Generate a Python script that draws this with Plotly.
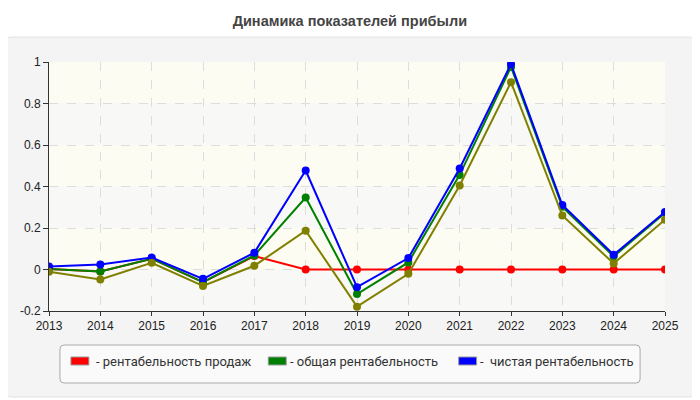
import plotly.graph_objs as go

# Data
years = [2013, 2014, 2015, 2016, 2017, 2018, 2019, 2020, 2021, 2022, 2023, 2024, 2025]
sales_margin = [0.003, -0.01, 0.052, -0.061, 0.065, 0, 0, 0, 0, 0, 0, 0, 0]
total_margin = [0.003, -0.01, 0.052, -0.061, 0.068, 0.347, -0.118, 0.034, 0.456, 0.976, 0.302, 0.063, 0.273]
net_margin = [0.015, 0.024, 0.058, -0.045, 0.081, 0.477, -0.085, 0.055, 0.487, 0.99, 0.311, 0.071, 0.277]
other_margin = [-0.011, -0.048, 0.032, -0.079, 0.018, 0.187, -0.179, -0.021, 0.405, 0.903, 0.26, 0.029, 0.24]

y_ticks = [-0.2, 0, 0.2, 0.4, 0.6, 0.8, 1]
y_labels = ['-0.2', '0', '0.2', '0.4', '0.6', '0.8', '1']

legend_names = ['- рентабельность продаж', '- общая рентабельность', '-  чистая рентабельность']
colors = ['#ff0000', '#008000', '#0000ff', '#808000']

# plot area in page pixels (figure sits 8px into the page)
PX0, PX1, PY0, PY1 = 47, 665, 62, 311


def px(x):
    return (x - PX0) / (PX1 - PX0)


def py(y):
    return (PY1 - y) / (PY1 - PY0)


def rounded(x0, y0, x1, y1, r):
    # rounded rect path in paper coords from page pixels
    a, b, c, d = px(x0), px(x1), py(y0), py(y1)
    rx, ry = r / (PX1 - PX0), r / (PY1 - PY0)
    return (f'M {a+rx},{c} L {b-rx},{c} Q {b},{c} {b},{c-ry} L {b},{d+ry} Q {b},{d} {b-rx},{d} '
            f'L {a+rx},{d} Q {a},{d} {a},{d+ry} L {a},{c-ry} Q {a},{c} {a+rx},{c} Z')


fig = go.Figure()

for vals, color in zip([sales_margin, total_margin, net_margin, other_margin], colors):
    fig.add_trace(go.Scatter(x=years, y=vals, mode='lines+markers',
                             line=dict(color=color, width=2), marker=dict(color=color, size=8),
                             showlegend=False, hoverinfo='x+y'))

shapes = [dict(type='path', path=rounded(2, 37, 697, 397, 8), xref='paper', yref='paper', layer='below',
               fillcolor='#f4f4f4', line=dict(color='#e2e2e2', width=1))]

# alternating background bands
for i in range(len(y_ticks) - 1):
    shapes.append(dict(type='rect', xref='paper', yref='y', x0=0, x1=1, y0=y_ticks[i], y1=y_ticks[i + 1],
                       layer='below', line=dict(width=0),
                       fillcolor='#f8f8f6' if i % 2 == 0 else '#fcfcf2'))

# legend box, drawn by hand to match the swatch layout
shapes.append(dict(type='path', path=rounded(58, 345, 640, 383, 4), xref='paper', yref='paper',
                   fillcolor='#fafafa', line=dict(color='#aaaaaa', width=1)))
swatch_x = [69, 267, 458]
text_x = [92, 287, 477]
annotations = []
for name, color, sx, tx in zip(legend_names, colors, swatch_x, text_x):
    shapes.append(dict(type='rect', xref='paper', yref='paper', x0=px(sx), x1=px(sx + 18),
                       y0=py(357), y1=py(365), fillcolor=color, line=dict(color='#999999', width=1)))
    annotations.append(dict(text=name, xref='paper', yref='paper', x=px(tx), y=py(361), xanchor='left',
                            yanchor='middle', showarrow=False,
                            font=dict(family='Roboto, Liberation Sans, sans-serif', size=13, color='#333')))

fig.update_layout(
    width=692, height=392,
    margin=dict(l=39, r=35, t=54, b=89),
    paper_bgcolor='white',
    plot_bgcolor='#fcfcf2',
    font=dict(family='Liberation Sans, Arial, sans-serif', size=12, color='#222'),
    title=dict(text='<b>Динамика показателей прибыли</b>', x=0.494, xref='container', y=0.967,
               yref='container', xanchor='center', yanchor='middle',
               font=dict(size=14.5, color='#444')),
    showlegend=False,
    shapes=shapes,
    annotations=annotations,
    xaxis=dict(range=[2013, 2025], tickvals=years, showgrid=True, gridcolor='#dddddd', griddash='dash',
               zeroline=False, showline=True, linecolor='#333', linewidth=1, ticks='outside', ticklen=4,
               tickcolor='#333', tickfont=dict(size=12, color='#222'), layer='above traces'),
    yaxis=dict(range=[-0.2, 1], tickvals=y_ticks, ticktext=y_labels, showgrid=True, gridcolor='#dddddd',
               griddash='dash', zeroline=False, showline=True, linecolor='#333', linewidth=1,
               ticks='outside', ticklen=5, tickcolor='#333', tickfont=dict(size=12, color='#222')),
)

fig.write_html("out.html")
